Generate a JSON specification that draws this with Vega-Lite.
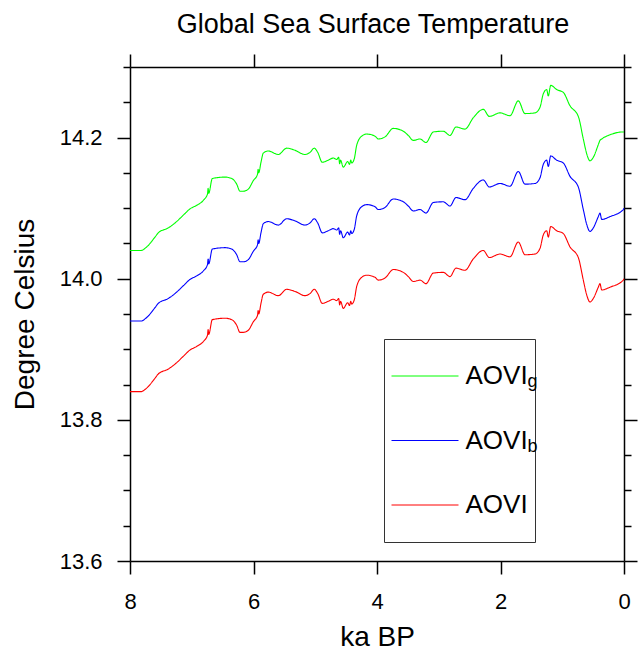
{
  "$schema": "https://vega.github.io/schema/vega-lite/v6.json",
  "width": 494,
  "height": 494,
  "autosize": "none",
  "padding": {"left": 130, "top": 67, "right": 17, "bottom": 91},
  "background": "white",
  "config": {
    "font": "Liberation Sans",
    "view": {"stroke": null},
    "axis": {
      "grid": false,
      "domainColor": "black",
      "domainWidth": 1.5,
      "tickColor": "black",
      "tickWidth": 1.5,
      "labelColor": "black",
      "titleColor": "black",
      "labelFont": "Liberation Sans",
      "titleFont": "Liberation Sans",
      "titleFontWeight": "normal",
      "labelFlush": false,
      "labelOverlap": false
    }
  },
  "title": {
    "text": "Global Sea Surface Temperature",
    "fontSize": 27,
    "fontWeight": "normal",
    "font": "Liberation Sans",
    "color": "black",
    "anchor": "middle",
    "frame": "group",
    "baseline": "alphabetic",
    "offset": -7,
    "dx": -4
  },
  "data": {
    "values": [
      {"ka": 8.000, "AOVI": 13.840, "AOVI_b": 13.940, "AOVI_g": 14.040},
      {"ka": 7.822, "AOVI": 13.840, "AOVI_b": 13.940, "AOVI_g": 14.040},
      {"ka": 7.730, "AOVI": 13.845, "AOVI_b": 13.945, "AOVI_g": 14.045},
      {"ka": 7.595, "AOVI": 13.859, "AOVI_b": 13.959, "AOVI_g": 14.059},
      {"ka": 7.542, "AOVI": 13.865, "AOVI_b": 13.965, "AOVI_g": 14.065},
      {"ka": 7.380, "AOVI": 13.872, "AOVI_b": 13.972, "AOVI_g": 14.072},
      {"ka": 7.271, "AOVI": 13.879, "AOVI_b": 13.979, "AOVI_g": 14.079},
      {"ka": 7.137, "AOVI": 13.890, "AOVI_b": 13.990, "AOVI_g": 14.090},
      {"ka": 7.028, "AOVI": 13.899, "AOVI_b": 13.999, "AOVI_g": 14.099},
      {"ka": 6.920, "AOVI": 13.904, "AOVI_b": 14.004, "AOVI_g": 14.104},
      {"ka": 6.813, "AOVI": 13.911, "AOVI_b": 14.011, "AOVI_g": 14.111},
      {"ka": 6.745, "AOVI": 13.920, "AOVI_b": 14.020, "AOVI_g": 14.120},
      {"ka": 6.735, "AOVI": 13.928, "AOVI_b": 14.028, "AOVI_g": 14.128},
      {"ka": 6.725, "AOVI": 13.921, "AOVI_b": 14.021, "AOVI_g": 14.121},
      {"ka": 6.667, "AOVI": 13.942, "AOVI_b": 14.042, "AOVI_g": 14.142},
      {"ka": 6.462, "AOVI": 13.944, "AOVI_b": 14.044, "AOVI_g": 14.144},
      {"ka": 6.353, "AOVI": 13.942, "AOVI_b": 14.042, "AOVI_g": 14.142},
      {"ka": 6.272, "AOVI": 13.934, "AOVI_b": 14.034, "AOVI_g": 14.134},
      {"ka": 6.219, "AOVI": 13.924, "AOVI_b": 14.024, "AOVI_g": 14.124},
      {"ka": 6.165, "AOVI": 13.924, "AOVI_b": 14.024, "AOVI_g": 14.124},
      {"ka": 6.084, "AOVI": 13.927, "AOVI_b": 14.027, "AOVI_g": 14.127},
      {"ka": 6.003, "AOVI": 13.939, "AOVI_b": 14.039, "AOVI_g": 14.139},
      {"ka": 5.935, "AOVI": 13.948, "AOVI_b": 14.048, "AOVI_g": 14.148},
      {"ka": 5.925, "AOVI": 13.955, "AOVI_b": 14.055, "AOVI_g": 14.155},
      {"ka": 5.915, "AOVI": 13.950, "AOVI_b": 14.050, "AOVI_g": 14.150},
      {"ka": 5.879, "AOVI": 13.965, "AOVI_b": 14.065, "AOVI_g": 14.165},
      {"ka": 5.841, "AOVI": 13.978, "AOVI_b": 14.078, "AOVI_g": 14.178},
      {"ka": 5.760, "AOVI": 13.981, "AOVI_b": 14.081, "AOVI_g": 14.181},
      {"ka": 5.598, "AOVI": 13.976, "AOVI_b": 14.076, "AOVI_g": 14.176},
      {"ka": 5.462, "AOVI": 13.985, "AOVI_b": 14.085, "AOVI_g": 14.185},
      {"ka": 5.328, "AOVI": 13.982, "AOVI_b": 14.082, "AOVI_g": 14.182},
      {"ka": 5.166, "AOVI": 13.976, "AOVI_b": 14.076, "AOVI_g": 14.176},
      {"ka": 5.085, "AOVI": 13.979, "AOVI_b": 14.079, "AOVI_g": 14.179},
      {"ka": 5.015, "AOVI": 13.985, "AOVI_b": 14.085, "AOVI_g": 14.185},
      {"ka": 4.960, "AOVI": 13.979, "AOVI_b": 14.079, "AOVI_g": 14.179},
      {"ka": 4.886, "AOVI": 13.965, "AOVI_b": 14.065, "AOVI_g": 14.165},
      {"ka": 4.789, "AOVI": 13.968, "AOVI_b": 14.068, "AOVI_g": 14.168},
      {"ka": 4.708, "AOVI": 13.971, "AOVI_b": 14.071, "AOVI_g": 14.171},
      {"ka": 4.653, "AOVI": 13.969, "AOVI_b": 14.069, "AOVI_g": 14.169},
      {"ka": 4.620, "AOVI": 13.972, "AOVI_b": 14.072, "AOVI_g": 14.172},
      {"ka": 4.605, "AOVI": 13.963, "AOVI_b": 14.063, "AOVI_g": 14.163},
      {"ka": 4.590, "AOVI": 13.968, "AOVI_b": 14.068, "AOVI_g": 14.168},
      {"ka": 4.546, "AOVI": 13.958, "AOVI_b": 14.058, "AOVI_g": 14.158},
      {"ka": 4.475, "AOVI": 13.966, "AOVI_b": 14.066, "AOVI_g": 14.166},
      {"ka": 4.445, "AOVI": 13.962, "AOVI_b": 14.062, "AOVI_g": 14.162},
      {"ka": 4.425, "AOVI": 13.968, "AOVI_b": 14.068, "AOVI_g": 14.168},
      {"ka": 4.410, "AOVI": 13.964, "AOVI_b": 14.064, "AOVI_g": 14.164},
      {"ka": 4.368, "AOVI": 13.970, "AOVI_b": 14.070, "AOVI_g": 14.170},
      {"ka": 4.329, "AOVI": 13.989, "AOVI_b": 14.089, "AOVI_g": 14.189},
      {"ka": 4.248, "AOVI": 14.002, "AOVI_b": 14.102, "AOVI_g": 14.202},
      {"ka": 4.167, "AOVI": 14.005, "AOVI_b": 14.105, "AOVI_g": 14.205},
      {"ka": 4.032, "AOVI": 14.002, "AOVI_b": 14.102, "AOVI_g": 14.202},
      {"ka": 3.979, "AOVI": 13.998, "AOVI_b": 14.098, "AOVI_g": 14.198},
      {"ka": 3.870, "AOVI": 14.001, "AOVI_b": 14.101, "AOVI_g": 14.201},
      {"ka": 3.736, "AOVI": 14.013, "AOVI_b": 14.113, "AOVI_g": 14.213},
      {"ka": 3.574, "AOVI": 14.009, "AOVI_b": 14.109, "AOVI_g": 14.209},
      {"ka": 3.493, "AOVI": 14.003, "AOVI_b": 14.103, "AOVI_g": 14.203},
      {"ka": 3.412, "AOVI": 13.996, "AOVI_b": 14.096, "AOVI_g": 14.196},
      {"ka": 3.304, "AOVI": 13.998, "AOVI_b": 14.098, "AOVI_g": 14.198},
      {"ka": 3.207, "AOVI": 13.993, "AOVI_b": 14.093, "AOVI_g": 14.193},
      {"ka": 3.088, "AOVI": 14.008, "AOVI_b": 14.108, "AOVI_g": 14.208},
      {"ka": 2.926, "AOVI": 14.009, "AOVI_b": 14.109, "AOVI_g": 14.209},
      {"ka": 2.818, "AOVI": 14.003, "AOVI_b": 14.103, "AOVI_g": 14.203},
      {"ka": 2.721, "AOVI": 14.015, "AOVI_b": 14.115, "AOVI_g": 14.215},
      {"ka": 2.575, "AOVI": 14.012, "AOVI_b": 14.112, "AOVI_g": 14.212},
      {"ka": 2.441, "AOVI": 14.028, "AOVI_b": 14.128, "AOVI_g": 14.228},
      {"ka": 2.279, "AOVI": 14.040, "AOVI_b": 14.140, "AOVI_g": 14.240},
      {"ka": 2.181, "AOVI": 14.030, "AOVI_b": 14.130, "AOVI_g": 14.230},
      {"ka": 2.008, "AOVI": 14.035, "AOVI_b": 14.135, "AOVI_g": 14.235},
      {"ka": 1.846, "AOVI": 14.031, "AOVI_b": 14.131, "AOVI_g": 14.231},
      {"ka": 1.712, "AOVI": 14.052, "AOVI_b": 14.152, "AOVI_g": 14.252},
      {"ka": 1.603, "AOVI": 14.034, "AOVI_b": 14.134, "AOVI_g": 14.234},
      {"ka": 1.441, "AOVI": 14.035, "AOVI_b": 14.135, "AOVI_g": 14.235},
      {"ka": 1.360, "AOVI": 14.043, "AOVI_b": 14.143, "AOVI_g": 14.243},
      {"ka": 1.307, "AOVI": 14.062, "AOVI_b": 14.162, "AOVI_g": 14.262},
      {"ka": 1.252, "AOVI": 14.068, "AOVI_b": 14.168, "AOVI_g": 14.268},
      {"ka": 1.226, "AOVI": 14.059, "AOVI_b": 14.159, "AOVI_g": 14.259},
      {"ka": 1.187, "AOVI": 14.074, "AOVI_b": 14.174, "AOVI_g": 14.274},
      {"ka": 1.090, "AOVI": 14.068, "AOVI_b": 14.168, "AOVI_g": 14.268},
      {"ka": 0.983, "AOVI": 14.064, "AOVI_b": 14.164, "AOVI_g": 14.264},
      {"ka": 0.874, "AOVI": 14.045, "AOVI_b": 14.145, "AOVI_g": 14.245},
      {"ka": 0.740, "AOVI": 14.030, "AOVI_b": 14.130, "AOVI_g": 14.230},
      {"ka": 0.659, "AOVI": 13.998, "AOVI_b": 14.098, "AOVI_g": 14.198},
      {"ka": 0.604, "AOVI": 13.977, "AOVI_b": 14.077, "AOVI_g": 14.177},
      {"ka": 0.551, "AOVI": 13.967, "AOVI_b": 14.067, "AOVI_g": 14.167},
      {"ka": 0.497, "AOVI": 13.972, "AOVI_b": 14.072, "AOVI_g": 14.172},
      {"ka": 0.416, "AOVI": 13.988, "AOVI_b": 14.088, "AOVI_g": 14.190},
      {"ka": 0.389, "AOVI": 13.993, "AOVI_b": 14.093, "AOVI_g": 14.196},
      {"ka": 0.361, "AOVI": 13.984, "AOVI_b": 14.084, "AOVI_g": 14.198},
      {"ka": 0.227, "AOVI": 13.988, "AOVI_b": 14.088, "AOVI_g": 14.204},
      {"ka": 0.011, "AOVI": 13.998, "AOVI_b": 14.098, "AOVI_g": 14.208},
      {"ka": 0.000, "AOVI": 14.000, "AOVI_b": 14.100, "AOVI_g": 14.208}
    ]
  },
  "transform": [
    {"fold": ["AOVI_g", "AOVI_b", "AOVI"], "as": ["series", "sst"]},
    {
      "lookup": "series",
      "from": {
        "data": {"values": [
          {"series": "AOVI_g", "sub": "g"},
          {"series": "AOVI_b", "sub": "b"},
          {"series": "AOVI", "sub": "none"}
        ]},
        "key": "series",
        "fields": ["sub"]
      }
    }
  ],
  "layer": [
    {
      "mark": {"type": "line", "interpolate": "monotone", "strokeWidth": 1.1},
      "encoding": {
        "x": {
          "field": "ka", "type": "quantitative",
          "scale": {"domain": [0, 8], "reverse": true, "nice": false, "zero": false},
          "axis": {
            "orient": "bottom",
            "values": [0, 2, 4, 6, 8],
            "format": "d",
            "tickSize": 13,
            "labelFontSize": 22,
            "labelPadding": 17,
            "title": "ka BP",
            "titleFontSize": 28,
            "titlePadding": 11
          }
        },
        "y": {
          "field": "sst", "type": "quantitative",
          "scale": {"domain": [13.6, 14.3], "nice": false, "zero": false},
          "axis": {
            "orient": "left",
            "values": [13.6, 13.65, 13.7, 13.75, 13.8, 13.85, 13.9, 13.95, 14, 14.05, 14.1, 14.15, 14.2, 14.25, 14.3],
            "labelExpr": "abs(datum.value*5-round(datum.value*5))<0.001 ? format(datum.value,'.1f') : ''",
            "tickSize": {"condition": {"test": "abs(datum.value*5-round(datum.value*5))<0.001", "value": 13}, "value": 7},
            "labelFontSize": 22,
            "labelPadding": 15,
            "title": "Degree Celsius",
            "titleFontSize": 28,
            "titlePadding": 20
          }
        },
        "color": {
          "field": "series", "type": "nominal",
          "scale": {"domain": ["AOVI_g", "AOVI_b", "AOVI"], "range": ["#00ff00", "#0000ff", "#ff0000"]},
          "legend": {
            "orient": "none",
            "legendX": 254,
            "legendY": 272,
            "title": null,
            "direction": "vertical",
            "labelExpr": "'AOVI'",
            "labelFont": "Liberation Sans",
            "labelFontSize": 26,
            "labelColor": "black",
            "symbolType": "M-1,-0.85M-1,0H1M3.36,0.85",
            "symbolSize": 4489,
            "symbolStrokeWidth": 1,
            "clipHeight": 60,
            "padding": 7,
            "labelOffset": 6.5,
            "rowPadding": 4.5,
            "strokeColor": "#333333",
            "fillColor": "white"
          }
        },
        "strokeDash": {
          "field": "sub", "type": "nominal",
          "scale": {"domain": ["g", "b", "none"], "range": [[1, 0], [1, 0], [1, 0]]},
          "legend": {
            "orient": "none",
            "legendX": 254,
            "legendY": 278,
            "title": null,
            "direction": "vertical",
            "labelExpr": "datum.label == 'none' ? '' : datum.label",
            "labelFont": "Liberation Sans",
            "labelFontSize": 18,
            "labelColor": "black",
            "symbolType": "M-1,-0.85M-1,0H1M3.36,0.85",
            "symbolSize": 4489,
            "symbolStrokeWidth": 1,
            "symbolOpacity": 0,
            "clipHeight": 60,
            "padding": 7,
            "labelOffset": 68.5,
            "rowPadding": 4.5
          }
        }
      }
    },
    {
      "mark": {"type": "line", "interpolate": "monotone", "opacity": 0},
      "encoding": {
        "x": {
          "field": "ka", "type": "quantitative",
          "scale": {"domain": [0, 8], "reverse": true, "nice": false, "zero": false},
          "axis": {"orient": "top", "values": [0, 2, 4, 6, 8], "labels": false, "tickSize": 13, "title": null}
        },
        "y": {
          "field": "sst", "type": "quantitative",
          "scale": {"domain": [13.6, 14.3], "nice": false, "zero": false},
          "axis": {
            "orient": "right",
            "values": [13.6, 13.65, 13.7, 13.75, 13.8, 13.85, 13.9, 13.95, 14, 14.05, 14.1, 14.15, 14.2, 14.25, 14.3],
            "labels": false,
            "tickSize": {"condition": {"test": "abs(datum.value*5-round(datum.value*5))<0.001", "value": 13}, "value": 7},
            "title": null
          }
        },
        "detail": {"field": "series", "type": "nominal"}
      }
    }
  ],
  "resolve": {"axis": {"x": "independent", "y": "independent"}}
}
